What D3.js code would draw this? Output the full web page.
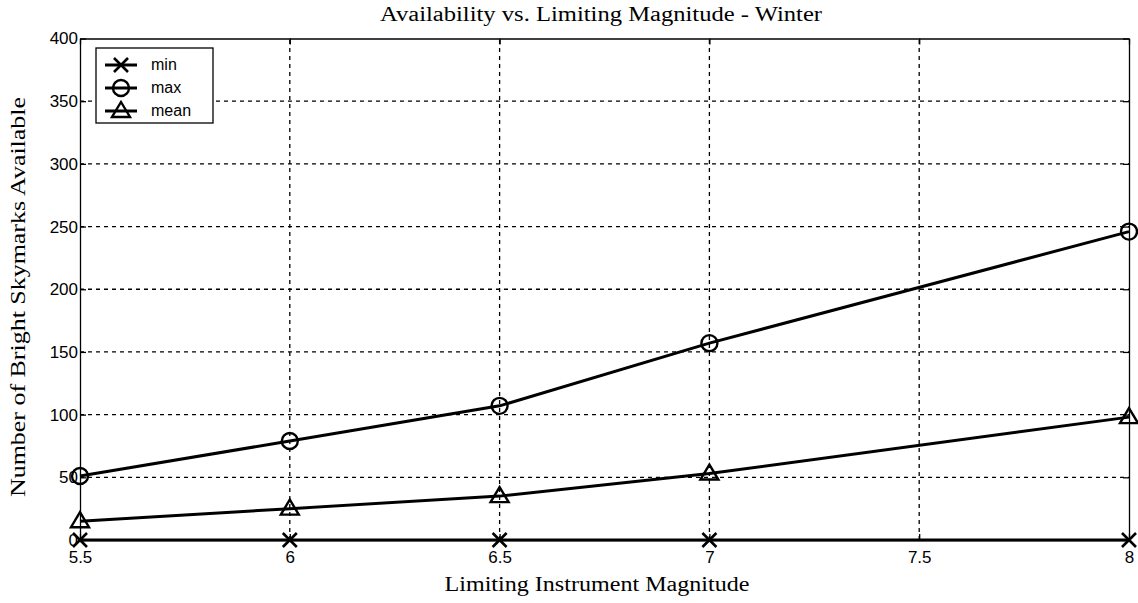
<!DOCTYPE html>
<html>
<head>
<meta charset="utf-8">
<script src="https://cdn.jsdelivr.net/npm/d3@7"></script>
<style>
  html, body { margin: 0; padding: 0; background: #fff; }
  svg { display: block; }
  .tick text { font-family: "Liberation Sans", Arial, sans-serif; font-size: 17px; fill: #000; }
</style>
</head>
<body>
<svg id="chart" width="1138" height="603"></svg>
<script>
// Limiting magnitude values on the x axis
const magnitudes = [5.5, 6, 6.5, 7, 8];
// Number of bright skymarks available per season statistic
const minValues  = [0, 0, 0, 0, 0];
const maxValues  = [51, 79, 107, 157, 246];
const meanValues = [15, 25, 35, 53, 98];

const xTicks = [5.5, 6, 6.5, 7, 7.5, 8];
const yTicks = [0, 50, 100, 150, 200, 250, 300, 350, 400];

const seriesNames = ["min", "max", "mean"];
const seriesValues = [minValues, maxValues, meanValues];

const W = 1138, H = 603;
const margin = { left: 80, right: 9, top: 38.5, bottom: 63 };
const svg = d3.select("#chart");

const x = d3.scaleLinear().domain([5.5, 8]).range([margin.left, W - margin.right]);
const y = d3.scaleLinear().domain([0, 400]).range([H - margin.bottom, margin.top]);

const x0 = x.range()[0], x1 = x.range()[1], y0 = y.range()[0], y1 = y.range()[1];

// dotted grid
const grid = svg.append("g").attr("stroke", "#000").attr("stroke-width", 1.3)
  .attr("stroke-dasharray", "4,4");
grid.selectAll("line.gx").data(xTicks.slice(1, -1)).join("line")
  .attr("x1", d => x(d)).attr("x2", d => x(d)).attr("y1", y0).attr("y2", y1);
grid.selectAll("line.gy").data(yTicks.slice(1, -1)).join("line")
  .attr("x1", x0).attr("x2", x1).attr("y1", d => y(d)).attr("y2", d => y(d));

// axes with inward ticks
const xAxis = d3.axisBottom(x).tickValues(xTicks).tickSizeInner(-6).tickSizeOuter(0)
  .tickPadding(11).tickFormat(d3.format("~g"));
const xAxisTop = d3.axisTop(x).tickValues(xTicks).tickSizeInner(-6).tickSizeOuter(0).tickFormat("");
const yAxis = d3.axisLeft(y).tickValues(yTicks).tickSizeInner(-6).tickSizeOuter(0).tickPadding(2);
const yAxisRight = d3.axisRight(y).tickValues(yTicks).tickSizeInner(-6).tickSizeOuter(0).tickFormat("");

svg.append("g").attr("transform", `translate(0,${y0})`).call(xAxis);
svg.append("g").attr("transform", `translate(0,${y1})`).call(xAxisTop);
svg.append("g").attr("transform", `translate(${x0},0)`).call(yAxis);
svg.append("g").attr("transform", `translate(${x1},0)`).call(yAxisRight);
svg.selectAll(".domain").attr("stroke", "#000").attr("stroke-width", 1.3);
svg.selectAll(".tick line").attr("stroke", "#000").attr("stroke-width", 1.3);

// markers
function drawMarker(g, kind, cx, cy) {
  const s = 7;
  if (kind === "min") {
    g.append("path").attr("d", `M${cx - s},${cy - s}L${cx + s},${cy + s}M${cx - s},${cy + s}L${cx + s},${cy - s}`)
      .attr("stroke", "#000").attr("stroke-width", 2.6).attr("fill", "none");
  } else if (kind === "max") {
    g.append("circle").attr("cx", cx).attr("cy", cy).attr("r", 8)
      .attr("stroke", "#000").attr("stroke-width", 2.4).attr("fill", "none");
  } else {
    g.append("path").attr("d", `M${cx},${cy - 9}L${cx + 9},${cy + 6}L${cx - 9},${cy + 6}Z`)
      .attr("stroke", "#000").attr("stroke-width", 2.4).attr("fill", "none");
  }
}

const line = d3.line().x(d => x(d[0])).y(d => y(d[1]));
const plot = svg.append("g");
seriesValues.forEach((vals, i) => {
  const pts = magnitudes.map((m, j) => [m, vals[j]]);
  plot.append("path").attr("d", line(pts)).attr("fill", "none")
    .attr("stroke", "#000").attr("stroke-width", 3);
  pts.forEach(p => drawMarker(plot, seriesNames[i], x(p[0]), y(p[1])));
});

// legend
const leg = svg.append("g");
leg.append("rect").attr("x", 96).attr("y", 48).attr("width", 117).attr("height", 75)
  .attr("fill", "#fff").attr("stroke", "#000").attr("stroke-width", 1.3);
seriesNames.forEach((name, i) => {
  const ly = 65 + i * 23;
  leg.append("line").attr("x1", 105).attr("x2", 137).attr("y1", ly).attr("y2", ly)
    .attr("stroke", "#000").attr("stroke-width", 3);
  drawMarker(leg, name, 121, ly);
  leg.append("text").attr("x", 151).attr("y", ly + 5)
    .attr("font-family", "Liberation Sans, Arial, sans-serif").attr("font-size", 16)
    .text(name);
});

// title and axis labels
const serif = "Liberation Serif, Times New Roman, serif";
svg.append("text").attr("x", 601).attr("y", 21).attr("text-anchor", "middle")
  .attr("font-family", serif).attr("font-size", 20)
  .attr("textLength", 442).attr("lengthAdjust", "spacingAndGlyphs")
  .text("Availability vs. Limiting Magnitude - Winter");
svg.append("text").attr("x", 597).attr("y", 591).attr("text-anchor", "middle")
  .attr("font-family", serif).attr("font-size", 20)
  .attr("textLength", 305).attr("lengthAdjust", "spacingAndGlyphs")
  .text("Limiting Instrument Magnitude");
svg.append("text").attr("transform", `translate(25,297) rotate(-90)`)
  .attr("text-anchor", "middle").attr("font-family", serif).attr("font-size", 20)
  .attr("textLength", 400).attr("lengthAdjust", "spacingAndGlyphs")
  .text("Number of Bright Skymarks Available");
</script>
</body>
</html>
